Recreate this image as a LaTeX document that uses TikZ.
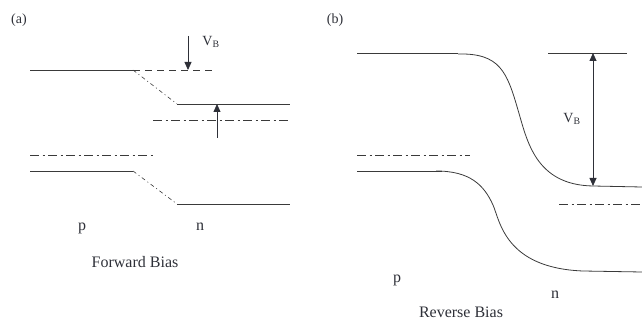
\documentclass[tikz,border=0pt]{standalone}
\usepackage{fontspec}
\setmainfont{Liberation Serif}
\usetikzlibrary{arrows.meta}
\definecolor{ink}{HTML}{2E3038}
\definecolor{band}{HTML}{3A3A3A}
\tikzset{
  band/.style={draw=band, line width=0.8pt},
  vacuum/.style={draw=band, line width=0.7pt, dash pattern=on 7pt off 5pt},
  slope/.style={draw=band, line width=0.6pt, dash pattern=on 4pt off 3pt on 1pt off 3pt},
  fermi/.style={draw=band, line width=0.7pt, dash pattern=on 9pt off 3.5pt on 2pt off 3.5pt},
  vbarrow/.style={draw=ink, line width=0.8pt, -{Triangle[length=8pt,width=7pt]}},
  vbspan/.style={draw=ink, line width=0.8pt, {Triangle[length=8pt,width=7pt]}-{Triangle[length=8pt,width=7pt]}},
  label/.style={font=\fontsize{16}{18}\selectfont, text=ink, inner sep=1pt},
  tag/.style={font=\fontsize{14}{16}\selectfont, text=ink, inner sep=1pt},
  vb/.style={font=\fontsize{14}{16}\selectfont, text=ink, inner sep=1pt},
}

\begin{document}
\begin{tikzpicture}[x=1pt, y=-1pt, line cap=butt, line join=round]
\path[use as bounding box] (0,0) rectangle (642,320);

% (a) forward bias
\node[tag] (tagA) at (19,20) {(a)};
\draw[band] (30,70) -- (133,70);
\draw[vacuum] (133,70) -- (212,70);
\draw[slope] (133,70) -- (177,104);
\draw[band] (177,104) -- (290,104);
\draw[fermi] (153,120) -- (290,120);
\draw[fermi] (30,155) -- (153,155);
\draw[band] (30,171) -- (133,171);
\draw[slope] (133,171) -- (177,204);
\draw[band] (177,204) -- (290,204);

\coordinate (downA-top) at (188,36);
\coordinate (downA-tip) at (188,70);
\coordinate (upA-base) at (217,138);
\coordinate (upA-tip) at (217,104);
\draw[vbarrow] (downA-top) -- (downA-tip);
\draw[vbarrow] (upA-base) -- (upA-tip);
\node[vb] (vbA) at (211,42) {V\textsubscript{B}};

\node[label] (pA) at (82,228) {p};
\node[label] (nA) at (200,227) {n};
\node[label] (capA) at (135,262) {Forward Bias};

% (b) reverse bias
\node[tag] (tagB) at (335,20) {(b)};
\draw[band] (357,53) -- (458,53);
\draw[band] (458,54) .. controls (500,53) and (507,72) .. (518,110)
  .. controls (527,140) and (535,185) .. (593,186) -- (642,187);
\draw[band] (548,53) -- (627,53);
\draw[fermi] (357,155) -- (470,155);
\draw[fermi] (559,204) -- (642,204);
\draw[band] (357,171) -- (442,171);
\draw[band] (436,171) .. controls (470,171) and (484,185) .. (493,205)
  .. controls (500,221) and (505,268) .. (583,271) -- (642,272);

\coordinate (spanB-top) at (593,53);
\coordinate (spanB-bot) at (593,186);
\draw[vbspan] (spanB-top) -- (spanB-bot);
\node[vb] (vbB) at (572,119) {V\textsubscript{B}};

\node[label] (pB) at (397,280) {p};
\node[label] (nB) at (555,295) {n};
\node[label] (capB) at (461,312) {Reverse Bias};
\end{tikzpicture}
\end{document}
